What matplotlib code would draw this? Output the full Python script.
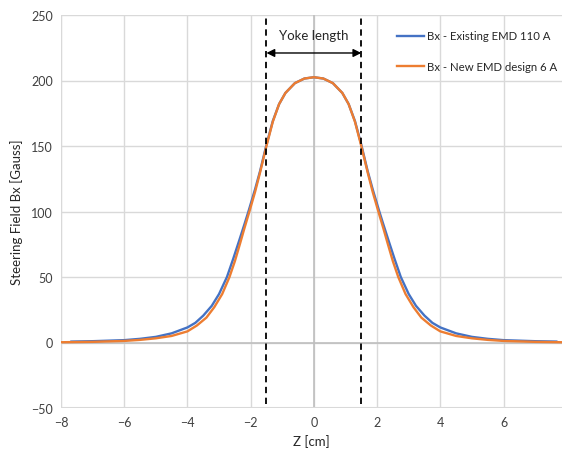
import matplotlib
matplotlib.use("Agg")
import matplotlib.pyplot as plt

plt.rcParams['font.family'] = ['Lato', 'DejaVu Sans']

z_existing = [-7.67, -7.0, -6.0, -5.5, -5.0, -4.5, -4.0, -3.75, -3.5, -3.23, -3.0, -2.75, -2.55,
              -2.36, -2.2, -2.07, -1.86, -1.7, -1.5, -1.3, -1.1, -0.9, -0.6, -0.3, 0.0,
              0.3, 0.6, 0.9, 1.1, 1.3, 1.5, 1.7, 1.86, 2.07, 2.2, 2.36, 2.55, 2.75, 3.0,
              3.23, 3.5, 3.75, 4.0, 4.5, 5.0, 5.5, 6.0, 7.0, 7.67]
bx_existing = [0.7, 1.0, 1.8, 2.8, 4.3, 7.0, 11.5, 15.0, 20.5, 28.0, 37.0, 50.0, 64.0,
               78.0, 90.0, 100.0, 117.0, 131.0, 151.0, 169.0, 182.0, 190.5, 198.0, 201.5, 202.5,
               201.5, 198.0, 190.5, 182.0, 169.0, 151.0, 131.0, 117.0, 100.0, 90.0, 78.0, 64.0, 50.0, 37.0,
               28.0, 20.5, 15.0, 11.5, 7.0, 4.3, 2.8, 1.8, 1.0, 0.7]

z_new = [-8.0, -7.0, -6.0, -5.5, -5.0, -4.5, -4.0, -3.7, -3.4, -3.15, -2.9, -2.67, -2.5,
         -2.33, -2.2, -2.04, -1.86, -1.7, -1.5, -1.3, -1.1, -0.9, -0.6, -0.3, 0.0,
         0.3, 0.6, 0.9, 1.1, 1.3, 1.5, 1.7, 1.86, 2.04, 2.2, 2.33, 2.5, 2.67, 2.9,
         3.15, 3.4, 3.7, 4.0, 4.5, 5.0, 5.5, 6.0, 7.0, 7.85]
bx_new = [0.2, 0.5, 1.2, 2.0, 3.2, 5.0, 8.5, 13.0, 19.0, 27.0, 37.0, 50.0, 62.0,
          76.0, 87.0, 100.0, 115.0, 130.0, 150.0, 168.5, 182.0, 190.5, 198.0, 201.5, 202.5,
          201.5, 198.0, 190.5, 182.0, 168.5, 150.0, 130.0, 115.0, 100.0, 87.0, 76.0, 62.0, 50.0, 37.0,
          27.0, 19.0, 13.0, 8.5, 5.0, 3.2, 2.0, 1.2, 0.5, 0.2]

labels = ["Bx - Existing EMD 110 A", "Bx - New EMD design 6 A"]
yoke_edges = [-1.5, 1.5]
x_ticks = [-8, -6, -4, -2, 0, 2, 4, 6]
y_ticks = [-50, 0, 50, 100, 150, 200, 250]

fig = plt.figure(figsize=(5.63, 4.52), dpi=100)
ax = fig.add_axes([61/563, 1-409/452, (562-61)/563, (409-16)/452])

ax.set_xlim(-8, 7.85)
ax.set_ylim(-50, 250)
ax.set_xticks(x_ticks)
ax.set_yticks(y_ticks)
ax.grid(True, color='#D9D9D9', linewidth=1.0)
ax.set_axisbelow(True)
for s in ax.spines.values():
    s.set_visible(False)
ax.tick_params(length=0, labelsize=9, colors='#404040', pad=6)
ax.axhline(0, color='#BFBFBF', linewidth=1.2, zorder=1)
ax.axvline(0, color='#BFBFBF', linewidth=1.2, zorder=1)
ax.axhline(-50, color='#D9D9D9', linewidth=1.5, zorder=1)
ax.axvline(-8, color='#D9D9D9', linewidth=1.5, zorder=1)

ax.plot(z_existing, bx_existing, color='#4472C4', linewidth=1.7, label=labels[0], zorder=3)
ax.plot(z_new, bx_new, color='#ED7D31', linewidth=1.7, label=labels[1], zorder=4)

for xe in yoke_edges:
    ax.plot([xe, xe], [-47, 250], color='black', linewidth=1.3, linestyle=(0, (3.5, 2.5)), zorder=5)

ax.annotate('', xy=(yoke_edges[0], 221), xytext=(yoke_edges[1], 221),
            arrowprops=dict(arrowstyle='<|-|>', color='black', lw=1.0,
                            mutation_scale=12, shrinkA=0, shrinkB=0), zorder=6)
ax.text(0, 234.5, 'Yoke length', ha='center', va='center', fontsize=9.5, color='#262626')

ax.set_xlabel('Z [cm]', fontsize=9.5, color='#262626', labelpad=4)
ax.set_ylabel('Steering Field Bx [Gauss]', fontsize=9.5, color='#262626', labelpad=6)

leg = ax.legend(loc='upper left', bbox_to_anchor=(397/563, 1-31.5/452), bbox_transform=fig.transFigure,
                frameon=False, fontsize=8.2, handlelength=2.4, handletextpad=0.2,
                labelspacing=1.75, borderpad=0, borderaxespad=0)
for t in leg.get_texts():
    t.set_color('#262626')

fig.savefig('out.png', dpi=100)
